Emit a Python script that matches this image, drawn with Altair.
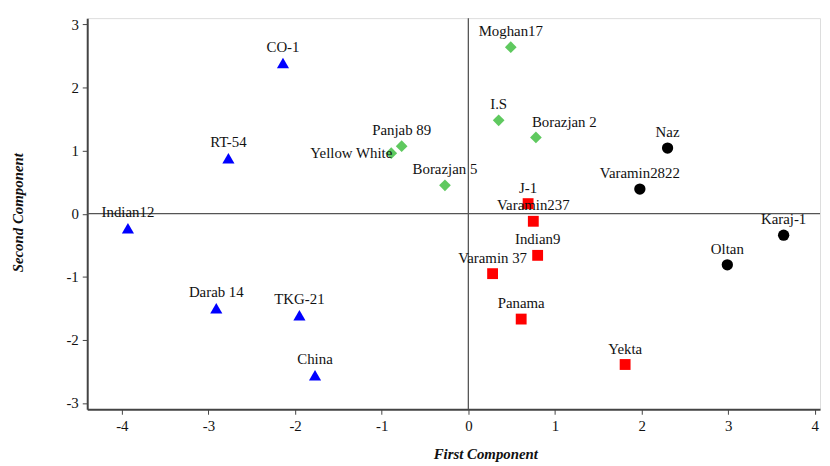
import altair as alt
import pandas as pd

names = ["CO-1", "RT-54", "Indian12", "Darab 14", "TKG-21", "China",
         "Moghan17", "I.S", "Borazjan 2", "Panjab 89", "Yellow White", "Borazjan 5",
         "Naz", "Varamin2822", "Karaj-1", "Oltan",
         "J-1", "Varamin237", "Indian9", "Varamin 37", "Panama", "Yekta"]
first = [-2.14, -2.77, -3.93, -2.91, -1.95, -1.77,
         0.49, 0.35, 0.78, -0.77, -0.89, -0.27,
         2.30, 1.98, 3.64, 2.99,
         0.69, 0.75, 0.80, 0.28, 0.61, 1.81]
second = [2.39, 0.88, -0.23, -1.50, -1.61, -2.56,
          2.64, 1.48, 1.21, 1.07, 0.96, 0.45,
          1.04, 0.39, -0.34, -0.81,
          0.16, -0.12, -0.66, -0.95, -1.67, -2.39]
group = ["A"] * 6 + ["B"] * 6 + ["C"] * 4 + ["D"] * 6
groups = ["A", "B", "C", "D"]
shapes = ["triangle-up", "diamond", "circle", "square"]
colors = ["#0000ff", "#5fc95f", "#000000", "#ff0000"]
sizes = [150, 120, 80, 95]
left_labels = ["Borazjan 2"]
right_labels = ["Yellow White"]

df = pd.DataFrame({"name": names, "x": first, "y": second, "group": group})

xs = alt.Scale(domain=[-4.4, 4.06], nice=False, zero=False)
ys = alt.Scale(domain=[-3.1, 3.1], nice=False, zero=False)
serif = "Liberation Serif"
lab_expr = "datum.value < 0 ? '-' + abs(datum.value) : '' + datum.value"

base = alt.Chart(df)

xaxis = alt.Axis(values=[-4, -3, -2, -1, 0, 1, 2, 3, 4], grid=False, tickSize=5,
                 labelExpr=lab_expr,
                 labelFont=serif, labelFontSize=15, labelColor="#111",
                 titleFont=serif, titleFontSize=15, titleFontStyle="italic",
                 titleFontWeight="bold", titleX=402, titleY=38, titleColor="#111",
                 domainColor="#444", domainWidth=2, tickColor="#444", labelPadding=4)
yaxis = alt.Axis(values=[-3, -2, -1, 0, 1, 2, 3], grid=False, tickSize=5,
                 labelExpr=lab_expr,
                 labelFont=serif, labelFontSize=15, labelColor="#111",
                 titleFont=serif, titleFontSize=15, titleFontStyle="italic",
                 titleFontWeight="bold", titleX=-62, titleY=196, titleColor="#111",
                 domainColor="#444", domainWidth=2, tickColor="#444", labelPadding=4)

points = base.mark_point(filled=True, opacity=1).encode(
    x=alt.X("x:Q", scale=xs, axis=xaxis, title="First Component"),
    y=alt.Y("y:Q", scale=ys, axis=yaxis, title="Second Component"),
    shape=alt.Shape("group:N", scale=alt.Scale(domain=groups, range=shapes), legend=None),
    color=alt.Color("group:N", scale=alt.Scale(domain=groups, range=colors), legend=None),
    size=alt.Size("group:N", scale=alt.Scale(domain=groups, range=sizes), legend=None),
)

zx = alt.Chart(pd.DataFrame({"v": [0]})).mark_rule(color="#555", strokeWidth=1.3).encode(
    x=alt.X("v:Q", scale=xs))
zy = alt.Chart(pd.DataFrame({"v": [0]})).mark_rule(color="#555", strokeWidth=1.3).encode(
    y=alt.Y("v:Q", scale=ys))

special = left_labels + right_labels
txt_c = base.transform_filter(
    ~alt.FieldOneOfPredicate(field="name", oneOf=special)
).mark_text(font=serif, fontSize=15, dy=-16, align="center", baseline="middle", color="#111").encode(
    x=alt.X("x:Q", scale=xs), y=alt.Y("y:Q", scale=ys), text="name:N")
txt_l = base.transform_filter(
    alt.FieldOneOfPredicate(field="name", oneOf=left_labels)
).mark_text(font=serif, fontSize=15, dy=-15, dx=-4, align="left", baseline="middle", color="#111").encode(
    x=alt.X("x:Q", scale=xs), y=alt.Y("y:Q", scale=ys), text="name:N")
txt_r = base.transform_filter(
    alt.FieldOneOfPredicate(field="name", oneOf=right_labels)
).mark_text(font=serif, fontSize=15, dy=0, dx=1, align="right", baseline="middle", color="#111").encode(
    x=alt.X("x:Q", scale=xs), y=alt.Y("y:Q", scale=ys), text="name:N")

chart = alt.layer(zx, zy, points, txt_c, txt_l, txt_r).properties(
    width=740, height=395,
    autosize=alt.AutoSizeParams(type="none"),
    padding={"left": 80, "top": 8, "right": 2, "bottom": 52},
).configure_view(stroke="#555", strokeWidth=1.5).configure(background="white")

chart.save("out.html", embed_options={"renderer": "svg", "actions": False})
